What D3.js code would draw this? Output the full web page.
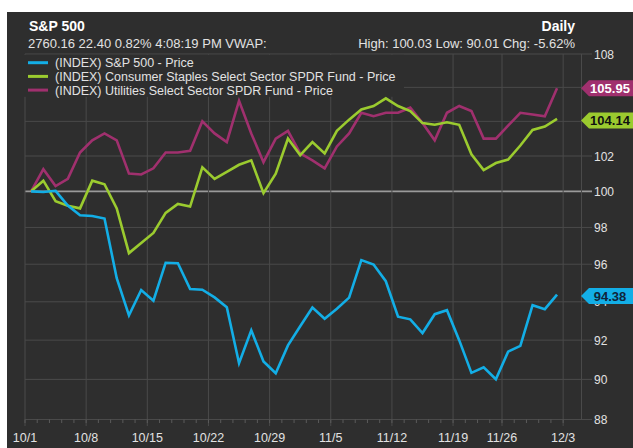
<!DOCTYPE html>
<html>
<head>
<meta charset="utf-8">
<script src="https://cdn.jsdelivr.net/npm/d3@7"></script>
<style>
html,body{margin:0;padding:0;background:#fff;}
svg{display:block;}
text{font-family:"Liberation Sans",Arial,sans-serif;}
</style>
</head>
<body>
<svg id="chart" width="633" height="448"></svg>
<script>
// ---- data ----
const dates = ["10/1","10/2","10/3","10/4","10/5","10/8","10/9","10/10","10/11","10/12",
  "10/15","10/16","10/17","10/18","10/19","10/22","10/23","10/24","10/25","10/26",
  "10/29","10/30","10/31","11/1","11/2","11/5","11/6","11/7","11/8","11/9",
  "11/12","11/13","11/14","11/15","11/16","11/19","11/20","11/21","11/23",
  "11/26","11/27","11/28","11/29","11/30"];
const sp500 = [100,99.96,100.03,99.21,98.67,98.63,98.49,95.25,93.29,94.62,
  94.06,96.08,96.05,94.67,94.64,94.23,93.71,90.82,92.51,90.91,
  90.31,91.73,92.72,93.70,93.11,93.63,94.22,96.22,95.98,95.09,
  93.22,93.08,92.37,93.35,93.56,92.00,90.33,90.61,90.01,
  91.41,91.71,93.82,93.61,94.38];
const staples = [100,100.6,99.45,99.2,99.05,100.6,100.4,99.05,96.6,97.15,
  97.7,98.8,99.3,99.15,101.35,100.7,101.1,101.5,101.75,99.9,
  101.0,103.0,102.05,102.8,102.15,103.45,104.1,104.7,104.9,105.35,
  104.9,104.6,103.9,103.8,103.95,103.8,102.1,101.2,101.6,
  101.8,102.6,103.5,103.7,104.14];
const utilities = [100,101.25,100.3,100.7,102.2,102.9,103.3,102.9,101.0,100.95,
  101.3,102.2,102.2,102.3,104.0,103.3,102.8,105.2,103.3,101.65,
  103.0,103.45,102.15,101.75,101.3,102.55,103.3,104.5,104.3,104.5,
  104.5,104.8,103.9,102.9,104.5,104.9,104.6,103.0,103.0,
  103.75,104.5,104.4,104.3,105.95];
const seriesNames = ["(INDEX) S&P 500 - Price",
  "(INDEX) Consumer Staples Select Sector SPDR Fund - Price",
  "(INDEX) Utilities Select Sector SPDR Fund - Price"];
const seriesColors = ["#13aee6","#9bcb2f","#a0306e"];
const yTicks = [88,90,92,94,96,98,100,102,104,106,108];
const xTickLabels = ["10/1","10/8","10/15","10/22","10/29","11/5","11/12","11/19","11/26","12/3"];
const headerTitle = "S&P 500";
const headerSub = "2760.16 22.40 0.82% 4:08:19 PM VWAP:";
const headerRight = "Daily";
const headerStats = "High: 100.03 Low: 90.01 Chg: -5.62%";

// ---- drawing ----
const svg = d3.select("#chart");
const bg = "#2e2e2e", grid = "#4a4a4a", txt = "#e2e2e2";

svg.append("rect").attr("x",7).attr("y",12).attr("width",626).attr("height",436).attr("fill",bg);

const nSlots = dates.length + 1.5; // 12/3 slot plus right margin
const x = d3.scaleLinear().domain([0, nSlots]).range([25, 581.5]);
const y = d3.scaleLog().domain([88,108]).range([419.5,54]);
const xc = i => x(i + 0.5);
const tickIndex = lbl => { const k = dates.indexOf(lbl); return k >= 0 ? k : dates.length; };
const series = [sp500, staples, utilities];
const lastVals = series.map(s => s[s.length-1]);

// horizontal grid
svg.append("g").selectAll("line").data(yTicks).join("line")
  .attr("x1",25).attr("x2",592)
  .attr("y1",d=>y(d)).attr("y2",d=>y(d))
  .attr("stroke",d=>d===100?"#9a9a9a":grid)
  .attr("stroke-width",d=>d===100?1.6:1);

// vertical grid
svg.append("g").selectAll("line").data(xTickLabels).join("line")
  .attr("x1",d=>x(tickIndex(d))).attr("x2",d=>x(tickIndex(d)))
  .attr("y1",y(108)).attr("y2",426)
  .attr("stroke",grid).attr("stroke-width",1);
svg.append("line").attr("x1",x(nSlots)).attr("x2",x(nSlots))
  .attr("y1",y(108)).attr("y2",y(88)).attr("stroke",grid);

// minor ticks
svg.append("g").selectAll("line").data(d3.range(0, dates.length + 1)).join("line")
  .attr("x1",d=>x(d)).attr("x2",d=>x(d))
  .attr("y1",y(88)).attr("y2",y(88)+3.5)
  .attr("stroke","#5a5a5a");

// x labels
svg.append("g").selectAll("text").data(xTickLabels).join("text")
  .attr("x",d=>x(tickIndex(d))).attr("y",441.5)
  .attr("text-anchor","middle").attr("fill",txt)
  .attr("font-size","12.5px").text(d=>d);

// y labels (those fully hidden under a value tag are not drawn)
const hidden = d => lastVals.some(v => Math.abs(y(v) - y(d)) < 4);
svg.append("g").selectAll("text").data(yTicks.filter(d=>!hidden(d))).join("text")
  .attr("x",594).attr("y",d=>y(d)+4.5)
  .attr("fill",txt).attr("font-size","12px").text(d=>d);

// legend box (covers grid)
svg.append("rect").attr("x",24).attr("y",y(108)+0.8).attr("width",380).attr("height",42).attr("fill",bg);

// lines
const line = d3.line().x((d,i)=>xc(i)).y(d=>y(d));
[2,1,0].forEach(k=>{
  svg.append("path").datum(series[k])
    .attr("d",line).attr("fill","none")
    .attr("stroke",seriesColors[k]).attr("stroke-width",2.6)
    .attr("stroke-linejoin","miter");
});

// header
svg.append("text").attr("x",29).attr("y",30.5).attr("fill","#fff")
  .attr("font-size","14px").attr("font-weight","bold").text(headerTitle);
svg.append("text").attr("x",28).attr("y",47.5).attr("fill",txt)
  .attr("font-size","13px").text(headerSub);
svg.append("text").attr("x",575).attr("y",30.5).attr("fill","#fff").attr("text-anchor","end")
  .attr("font-size","14px").attr("font-weight","bold").text(headerRight);
svg.append("text").attr("x",575).attr("y",47.5).attr("fill",txt).attr("text-anchor","end")
  .attr("font-size","13px").text(headerStats);

// legend
const lg = svg.append("g");
seriesNames.forEach((n,k)=>{
  const ly = 62.7 + k*13.7;
  lg.append("line").attr("x1",28).attr("x2",48).attr("y1",ly).attr("y2",ly)
    .attr("stroke",seriesColors[k]).attr("stroke-width",3);
  lg.append("text").attr("x",55).attr("y",ly+4.5).attr("fill",txt)
    .attr("font-size","12.5px").text(n);
});

// value tags
const tagText = ["#10243a","#111","#fff"];
[2,1,0].forEach(k=>{
  const v = lastVals[k];
  const ty = y(v) + (k===2?0:1.5);
  const h = 8;
  svg.append("path")
    .attr("d",`M581,${ty} L589,${ty-h} L633,${ty-h} L633,${ty+h} L589,${ty+h} Z`)
    .attr("fill",seriesColors[k]);
  svg.append("text").attr("x",610).attr("y",ty+4.5).attr("text-anchor","middle")
    .attr("fill",tagText[k]).attr("font-size","13px").attr("font-weight","bold")
    .text(v.toFixed(2));
});
</script>
</body>
</html>
